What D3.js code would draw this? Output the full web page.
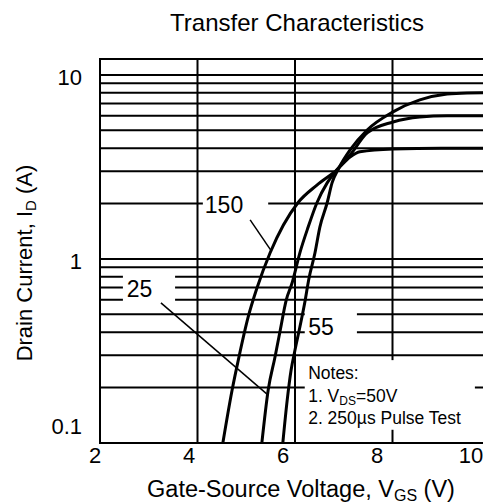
<!DOCTYPE html>
<html>
<head>
<meta charset="utf-8">
<script src="https://cdn.jsdelivr.net/npm/d3@7"></script>
<style>
  body { margin: 0; background: #fff; }
  text { font-family: "Liberation Sans", Arial, sans-serif; fill: #000; }
</style>
</head>
<body>
<script>
// curves (VGS in volts, ID in amps)
const vgs150 = [4.52, 4.71, 4.85, 5.04, 5.22, 5.49, 6.06, 6.45, 6.86, 7.13, 7.33, 8.01, 9.0, 10];
const id150 = [0.1, 0.194, 0.293, 0.484, 0.695, 1.08, 2.02, 2.52, 3.05, 3.58, 3.82, 3.96, 4.0, 4.0];

const vgs25 = [5.32, 5.45, 5.59, 5.69, 5.82, 5.94, 6.10, 6.27, 6.45, 6.66, 6.86, 7.13, 7.48, 8.01, 8.56, 9.12, 10];
const id25 = [0.1, 0.194, 0.293, 0.401, 0.598, 0.74, 1.08, 1.49, 2.02, 2.59, 3.05, 3.67, 4.84, 5.55, 5.91, 6.0, 6.0];

const vgsM55 = [5.75, 5.84, 5.92, 6.00, 6.10, 6.21, 6.28, 6.41, 6.51, 6.66, 6.76, 6.9, 7.13, 7.48, 8.01, 8.56, 9.12, 9.53, 10];
const idM55 = [0.1, 0.171, 0.249, 0.32, 0.427, 0.599, 0.769, 1.08, 1.49, 2.02, 2.59, 3.12, 3.91, 5.02, 6.3, 7.31, 7.88, 7.98, 8.0];

const xTicks = [2, 4, 6, 8, 10];
const xGrid = [4, 6, 8];
const yTicks = [0.1, 1, 10];
const yGrid = [0.2, 0.3, 0.4, 0.5, 0.6, 0.7, 0.8, 0.9, 1, 2, 3, 4, 5, 6, 7, 8, 9, 10];

const width = 483, height = 503;
const plotLeft = 100, plotRight = 490, plotTop = 59, plotBottom = 443;

const svg = d3.select('body').append('svg')
  .attr('width', width)
  .attr('height', height);

const x = d3.scaleLinear().domain([2, 10]).range([plotLeft, plotRight]);
const xLabel = d3.scaleLinear().domain([2, 10]).range([95, 471]);
const y = d3.scaleLog().domain([0.1, 12.2]).range([plotBottom, plotTop]);

// grid
svg.append('g').selectAll('line').data(yGrid).enter().append('line')
  .attr('x1', plotLeft).attr('x2', plotRight)
  .attr('y1', d => y(d)).attr('y2', d => y(d))
  .attr('stroke', '#000').attr('stroke-width', 2);

svg.append('g').selectAll('line').data(xGrid).enter().append('line')
  .attr('x1', d => x(d)).attr('x2', d => x(d))
  .attr('y1', plotTop).attr('y2', plotBottom)
  .attr('stroke', '#000').attr('stroke-width', 2);

svg.append('rect')
  .attr('x', plotLeft).attr('y', plotTop)
  .attr('width', plotRight - plotLeft).attr('height', plotBottom - plotTop)
  .attr('fill', 'none').attr('stroke', '#000').attr('stroke-width', 2);

// white boxes behind the labels, [v0, v1, i0, i1]
const boxes = [
  [4.11, 5.45, 2.31, 1.71],
  [2.47, 3.54, 0.85, 0.555],
  [6.2, 7.27, 0.542, 0.363],
  [6.2, 9.69, 0.282, 0.118]
];
svg.append('g').selectAll('rect').data(boxes).enter().append('rect')
  .attr('x', d => x(d[0])).attr('width', d => x(d[1]) - x(d[0]))
  .attr('y', d => y(d[2])).attr('height', d => y(d[3]) - y(d[2]))
  .attr('fill', '#fff');

// curves
const line = d3.line()
  .x(d => x(d[0]))
  .y(d => y(d[1]))
  .curve(d3.curveMonotoneX);

[[vgs150, id150], [vgs25, id25], [vgsM55, idM55]].forEach(([vs, is]) => {
  svg.append('path')
    .datum(d3.zip(vs, is))
    .attr('d', line)
    .attr('fill', 'none')
    .attr('stroke', '#000')
    .attr('stroke-width', 3);
});

// leader lines
const leaders = [
  [5.08, 1.63, 5.52, 1.10],
  [3.25, 0.577, 5.42, 0.185]
];
svg.append('g').selectAll('line').data(leaders).enter().append('line')
  .attr('x1', d => x(d[0])).attr('y1', d => y(d[1]))
  .attr('x2', d => x(d[2])).attr('y2', d => y(d[3]))
  .attr('stroke', '#000').attr('stroke-width', 1.5);

// curve labels
const curveLabels = [
  ['150', 4.15, 1.78],
  ['25', 2.55, 0.621],
  ['55', 6.27, 0.386]
];
svg.append('g').selectAll('text').data(curveLabels).enter().append('text')
  .attr('x', d => x(d[1])).attr('y', d => y(d[2]))
  .attr('font-size', 23)
  .text(d => d[0]);

// notes
const notes = svg.append('text')
  .attr('x', x(6.27)).attr('y', y(0.282))
  .attr('font-size', 17.5);
notes.append('tspan').attr('x', x(6.27)).attr('dy', 19).text('Notes:');
notes.append('tspan').attr('x', x(6.27)).attr('dy', 23).text('1. V');
notes.append('tspan').attr('font-size', 12).attr('dy', 3).text('DS');
notes.append('tspan').attr('dy', -3).text('=50V');
notes.append('tspan').attr('x', x(6.27)).attr('dy', 22).text('2. 250µs Pulse Test');

// tick labels
svg.append('g').selectAll('text').data(xTicks).enter().append('text')
  .attr('x', d => xLabel(d)).attr('y', 463)
  .attr('text-anchor', 'middle')
  .attr('font-size', 22)
  .text(d => d);

svg.append('g').selectAll('text').data(yTicks).enter().append('text')
  .attr('x', 82)
  .attr('y', d => y(d) + (d === 0.1 ? -17 : 2))
  .attr('dy', '0.35em')
  .attr('text-anchor', 'end')
  .attr('font-size', 22)
  .text(d => d);

// titles
svg.append('text')
  .attr('x', 297).attr('y', 31)
  .attr('text-anchor', 'middle')
  .attr('font-size', 24)
  .text('Transfer Characteristics');

const xt = svg.append('text')
  .attr('x', 301).attr('y', 497)
  .attr('text-anchor', 'middle')
  .attr('font-size', 23.5);
xt.append('tspan').text('Gate-Source Voltage, V');
xt.append('tspan').attr('font-size', 16).attr('dy', 4).text('GS');
xt.append('tspan').attr('dy', -4).text(' (V)');

const yt = svg.append('text')
  .attr('transform', 'translate(32,263) rotate(-90)')
  .attr('text-anchor', 'middle')
  .attr('font-size', 22);
yt.append('tspan').text('Drain Current, I');
yt.append('tspan').attr('font-size', 15).attr('dy', 4).text('D');
yt.append('tspan').attr('dy', -4).text(' (A)');
</script>
</body>
</html>
